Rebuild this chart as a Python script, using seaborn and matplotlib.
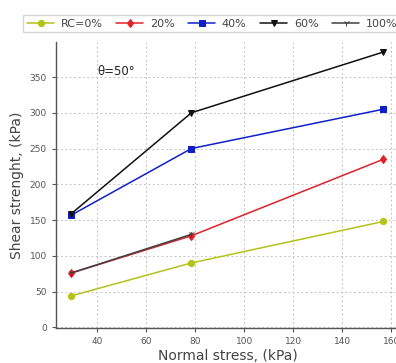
import matplotlib
matplotlib.use("Agg")
import matplotlib.pyplot as plt
import seaborn as sns
import pandas as pd
import numpy as np

normal_stress = [29.4, 78.4, 156.8]
series_names = ["RC=0%", "20%", "40%", "60%", "100%"]
rc0 = [44, 90, 148]
rc20 = [76, 128, 235]
rc40 = [157, 250, 305]
rc60 = [159, 300, 385]
rc100 = [76, 130, np.nan]
colors = ["#b5c21a", "#e0202a", "#1020c8", "#111111", "#404040"]
markers = ["o", "d", "s", "v", "1"]
yticks = [0, 50, 100, 150, 200, 250, 300, 350]
xticks = [40, 60, 80, 100, 120, 140, 160]

sns.set_style("white")
plt.rcParams["font.family"] = ["DejaVu Sans"]

fig = plt.figure(figsize=(3.96, 3.63), dpi=100)
ax = fig.add_axes([0.141, 0.0964, 0.867, 0.788])

for name, vals, c, m in zip(series_names, [rc0, rc20, rc40, rc60, rc100], colors, markers):
    d = pd.DataFrame({"Normal stress": normal_stress, "Shear": vals}).dropna()
    sns.lineplot(data=d, x="Normal stress", y="Shear", color=c, marker=m,
                 markersize=4.5, markeredgecolor=c, linewidth=1.1, label=name, ax=ax)

ax.set_xlim(23.03, 163.2)
ax.set_ylim(-1, 399)
ax.set_xticks(xticks)
ax.set_yticks(yticks)
ax.grid(True, linestyle=(0, (2, 2.5)), color="#c4c4c4", linewidth=0.7)
for s in ["top", "right"]:
    ax.spines[s].set_visible(False)
for s in ["left", "bottom"]:
    ax.spines[s].set_color("#555555")
    ax.spines[s].set_linewidth(1.0)
ax.tick_params(axis="both", labelsize=6.5, colors="#555555", length=3, width=0.8,
               direction="out", left=True, bottom=True)
ax.set_xlabel("Normal stress, (kPa)", fontsize=10, color="#444444", labelpad=2)
ax.set_ylabel("Shear strenght, (kPa)", fontsize=10, color="#444444", labelpad=4)
ax.text(40, 357, "θ=50°", fontsize=8.5, color="#222222", va="center", ha="left")

handles, labels = ax.get_legend_handles_labels()
ax.legend_.remove()
leg = fig.legend(handles, labels, loc="upper left", bbox_to_anchor=(0.045, 0.975),
                 ncol=5, fontsize=8, frameon=True, handlelength=2.4,
                 columnspacing=1.25, handletextpad=0.6, borderpad=0.35, fancybox=False)
leg.get_frame().set_edgecolor("#cccccc")
for t in leg.get_texts():
    t.set_color("#444444")

fig.savefig("out.png", dpi=100)
